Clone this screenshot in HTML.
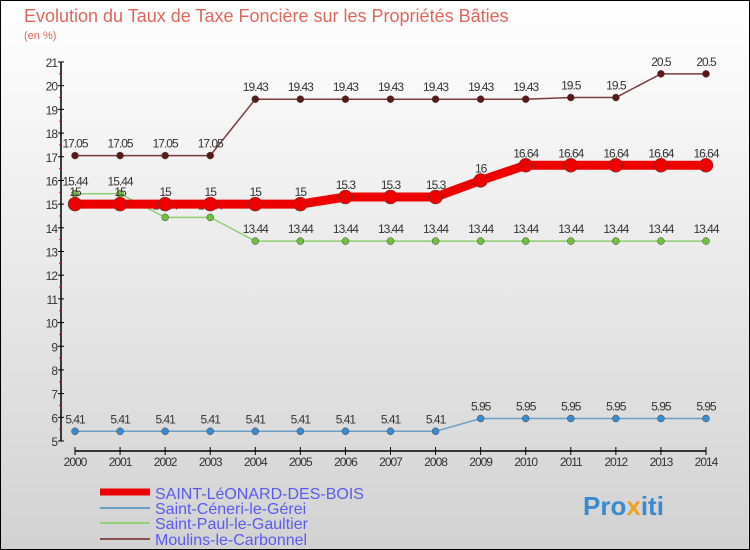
<!DOCTYPE html>
<html><head><meta charset="utf-8"><style>
body{margin:0}
#c{width:750px;height:550px;position:relative;overflow:hidden;font-family:"Liberation Sans",sans-serif}
</style></head><body>
<div id="c">
<svg id="s" width="750" height="550" xmlns="http://www.w3.org/2000/svg">
<defs><linearGradient id="bg" x1="0" y1="0" x2="0" y2="1"><stop offset="0" stop-color="#ffffff"/><stop offset="1" stop-color="#d2d2d2"/></linearGradient></defs>
<rect x="0.5" y="0.5" width="749" height="549" fill="url(#bg)" stroke="#000"/>
<text x="24" y="22" font-size="18" fill="#e0665a">Evolution du Taux de Taxe Foncière sur les Propriétés Bâties</text>
<text x="24" y="39" font-size="11" fill="#e0665a">(en %)</text>
<g id="axes"></g><g id="series"></g>
<g>
<line x1="100" y1="492" x2="150" y2="492" stroke="#e00" stroke-width="7"/>
<text x="155" y="499" font-size="16" fill="#5a5af0">SAINT-LéONARD-DES-BOIS</text>
<line x1="100" y1="508" x2="150" y2="508" stroke="#6aa0c8" stroke-width="2"/>
<text x="155" y="514" font-size="16" fill="#5a5af0">Saint-Céneri-le-Gérei</text>
<line x1="100" y1="523" x2="150" y2="523" stroke="#8fd070" stroke-width="2"/>
<text x="155" y="529" font-size="16" fill="#5a5af0">Saint-Paul-le-Gaultier</text>
<line x1="100" y1="539" x2="150" y2="539" stroke="#8a5050" stroke-width="2"/>
<text x="155" y="545" font-size="16" fill="#5a5af0">Moulins-le-Carbonnel</text>
</g>
<text x="583" y="515" font-size="26" font-weight="bold" fill="#3a8ad0">Pro<tspan fill="#f0a020">x</tspan>iti</text>
</svg>
</div>
<script>
const years=[2000,2001,2002,2003,2004,2005,2006,2007,2008,2009,2010,2011,2012,2013,2014];
const yTicks=[5,6,7,8,9,10,11,12,13,14,15,16,17,18,19,20,21];
const leonard=[15,15,15,15,15,15,15.3,15.3,15.3,16,16.64,16.64,16.64,16.64,16.64];
const ceneri=[5.41,5.41,5.41,5.41,5.41,5.41,5.41,5.41,5.41,5.95,5.95,5.95,5.95,5.95,5.95];
const paul=[15.44,15.44,14.44,14.44,13.44,13.44,13.44,13.44,13.44,13.44,13.44,13.44,13.44,13.44,13.44];
const moulins=[17.05,17.05,17.05,17.05,19.43,19.43,19.43,19.43,19.43,19.43,19.43,19.5,19.5,20.5,20.5];
const NS="http://www.w3.org/2000/svg";
const X=i=>75+i*(706-75)/14;
const Y=v=>441-(v-5)*(441-62)/16;
function mk(tag,attrs,parent){const e=document.createElementNS(NS,tag);for(const k in attrs)e.setAttribute(k,attrs[k]);parent.appendChild(e);return e;}
const ax=document.getElementById('axes');
let l=mk('line',{x1:61,y1:Y(21),x2:61,y2:Y(5),stroke:'#000','stroke-width':1.5},ax);


yTicks.forEach(v=>{
 mk('line',{x1:58,y1:Y(v),x2:64,y2:Y(v),stroke:'#000'},ax);
 if(v<21) mk('line',{x1:59,y1:Y(v+0.5),x2:62,y2:Y(v+0.5),stroke:'#e00'},ax);
 const t=mk('text',{x:57,y:Y(v)+5,'font-size':12,fill:'#333','text-anchor':'end','letter-spacing':'-1'},ax);
 t.textContent=v;
 
 
});
l=mk('line',{x1:X(0),y1:451,x2:X(14),y2:451,stroke:'#000','stroke-width':1.5},ax);


years.forEach((y,i)=>{
 mk('line',{x1:X(i),y1:447,x2:X(i),y2:455,stroke:'#000'},ax);
 const t=mk('text',{x:X(i),y:466,'font-size':12,fill:'#333','text-anchor':'middle','letter-spacing':'-1'},ax);
 t.textContent=y;
 
 
});
const sg=document.getElementById('series');
function draw(vals,name,color,dot,w,r){
 const g=mk('g',{},sg);
 
 
 mk('polyline',{points:vals.map((v,i)=>X(i)+','+Y(v)).join(' '),fill:'none',stroke:color,'stroke-width':w},g);
 vals.forEach((v,i)=>{
  const c=mk('circle',{cx:X(i),cy:Y(v),r:r,fill:dot,stroke:'#444','stroke-width':0.5},g);
  
  
  const t=mk('text',{x:X(i),y:Y(v)-8,'font-size':12,fill:'#333','text-anchor':'middle','letter-spacing':'-1'},g);
  t.textContent=v;
  
  
 });
}
draw(ceneri,'saint-ceneri-series','#6aa0c8','#3a8ad0',1.5,3.5);
draw(paul,'saint-paul-series','#8fd070','#70c040',1.5,3.5);
draw(moulins,'moulins-series','#7a3a3a','#5a1818',1.5,3.5);
draw(leonard,'saint-leonard-series','#e00','#e00',9,7);
</script>
</body></html>
